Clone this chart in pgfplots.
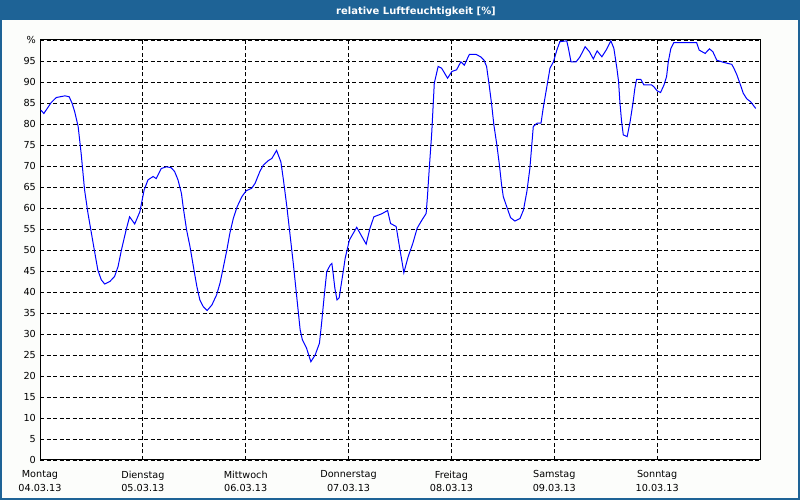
\documentclass[border=0pt]{standalone}
\usepackage{fontspec}
\setmainfont{DejaVu Sans}
\usepackage{pgfplots}
\pgfplotsset{compat=1.18}
\definecolor{framebl}{RGB}{30,99,150}
\definecolor{panel}{RGB}{252,253,251}
\definecolor{humid}{RGB}{0,0,255}

% hours since Monday 00:00, relative humidity in %
\begin{document}
\begin{tikzpicture}[x=1bp,y=1bp]
\fill[framebl] (0,0) rectangle (800,500);
\fill[panel] (2,2) rectangle (798,480);
\node[text=white, font=\fontsize{10}{12}\selectfont\bfseries, anchor=base, inner sep=0]
  at (416,485.5) {relative Luftfeuchtigkeit [\%]};
\begin{axis}[
    at={(40bp,40bp)}, anchor=south west,
    width=720bp, height=420bp, scale only axis,
    xmin=0, xmax=168, ymin=0, ymax=100,
    xtick={0,24,...,144},
    xticklabels={{Montag\\04.03.13},{Dienstag\\05.03.13},{Mittwoch\\06.03.13},
      {Donnerstag\\07.03.13},{Freitag\\08.03.13},{Samstag\\09.03.13},{Sonntag\\10.03.13}},
    ytick={0,5,...,100},
    yticklabels={0,5,10,15,20,25,30,35,40,45,50,55,60,65,70,75,80,85,90,95,\%},
    major tick length=0pt,
    tick label style={font=\fontsize{9.7}{14}\selectfont, inner sep=0pt},
    xticklabel style={align=center, anchor=north, yshift=-10.5bp},
    yticklabel style={anchor=east, xshift=-4bp},
    /pgf/number format/assume math mode=true,
    grid=major,
    major grid style={black, line width=0.8bp, dash pattern=on 4bp off 2.5bp},
    axis line style={black, line width=1bp},
    axis background/.style={fill=white},
]
\addplot[humid, line width=1bp, mark=none] coordinates {
(0.2,83.3) (0.9,82.5) (2.6,85.1) (3.8,86.3) (5.8,86.7) (6.8,86.5) (7.5,84.9)
(8.1,82.9) (8.9,79.4) (9.6,73.0) (10.4,64.3) (11.2,58.7) (12.4,51.6) (13.5,45.2)
(14.3,42.9) (15.1,41.9) (16.3,42.5) (17.4,43.7) (18.2,46.0) (19.0,50.0) (20.1,54.8)
(20.9,57.9) (22.1,56.2) (23.3,59.1) (24.3,64.3) (25.2,66.7) (26.4,67.5) (27.1,67.0)
(28.3,69.4) (29.5,69.8) (30.6,69.6) (31.4,68.7) (32.2,66.7) (33.0,63.5) (33.4,60.3)
(34.2,54.8) (35.0,50.8) (35.8,46.0) (36.6,41.3) (37.3,38.1) (38.1,36.5) (39.0,35.6)
(40.1,36.9) (41.2,39.3) (42.0,42.1) (42.8,46.0) (43.6,50.0) (44.3,54.0) (45.1,57.5)
(46.0,60.3) (47.1,62.7) (48.1,64.1) (49.4,64.7) (50.2,65.9) (51.3,68.7) (52.1,70.2)
(53.3,71.3) (54.1,71.8) (55.2,73.7) (56.2,71.0) (56.8,66.7) (57.6,60.3) (58.3,54.0)
(59.1,46.8) (59.9,38.9) (60.7,31.0) (61.2,28.7) (62.2,26.6) (63.2,23.4) (64.2,25.0)
(65.2,27.8) (65.7,32.5) (66.3,38.9) (66.9,44.8) (67.7,46.4) (68.1,46.8) (68.4,44.4)
(68.8,40.9) (69.3,38.1) (69.8,38.6) (70.8,45.2) (71.2,48.0) (72.2,52.4) (73.9,55.4)
(75.1,53.2) (76.1,51.4) (77.0,55.2) (77.9,57.9) (79.7,58.6) (81.1,59.4) (81.8,56.3)
(83.1,55.6) (84.0,50.0) (84.9,44.6) (85.9,48.4) (87.0,51.6) (88.0,55.2) (89.1,57.1)
(90.1,58.7) (90.4,62.7) (90.8,69.0) (91.4,77.8) (92.0,89.7) (92.9,93.7) (93.7,93.3)
(95.1,90.9) (96.1,92.5) (97.2,92.9) (98.2,94.8) (99.0,94.0) (100.2,96.6) (101.7,96.6)
(102.8,96.0) (103.6,95.2) (104.2,93.7) (104.8,89.3) (105.4,84.5) (105.9,79.8) (106.6,75.0)
(107.2,70.2) (107.7,65.5) (108.1,62.7) (108.9,60.3) (109.8,57.7) (110.8,56.9) (112.0,57.5)
(112.8,59.5) (113.6,63.9) (114.3,69.4) (115.1,79.4) (116.0,80.2) (116.9,80.2) (117.4,83.7)
(118.2,88.5) (119.0,93.3) (119.8,94.8) (120.6,97.6) (121.3,99.6) (122.9,99.8) (123.3,98.0)
(123.9,94.8) (125.1,94.8) (126.0,96.0) (127.2,98.4) (128.2,97.2) (129.1,95.5) (130.0,97.4)
(131.1,96.0) (132.1,97.6) (133.2,99.8) (133.9,98.0) (134.6,93.3) (135.0,90.1) (135.3,85.3)
(135.7,80.6) (136.1,77.4) (137.0,77.0) (137.7,80.6) (138.4,85.3) (138.8,88.5) (139.2,90.6)
(140.2,90.6) (140.9,89.3) (142.7,89.3) (143.2,88.9) (144.0,87.9) (144.8,87.5) (145.6,89.3)
(146.2,91.3) (146.6,94.8) (147.2,98.0) (147.9,99.4) (153.2,99.4) (153.8,97.6) (155.2,96.8)
(156.2,97.9) (157.0,97.2) (157.9,95.2) (159.4,94.7) (161.4,94.2) (161.9,93.3) (162.6,91.7)
(163.3,89.7) (164.1,87.3) (164.9,86.0) (165.8,85.3) (166.4,84.5) (167.0,83.7)
};
\end{axis}
\end{tikzpicture}
\end{document}
